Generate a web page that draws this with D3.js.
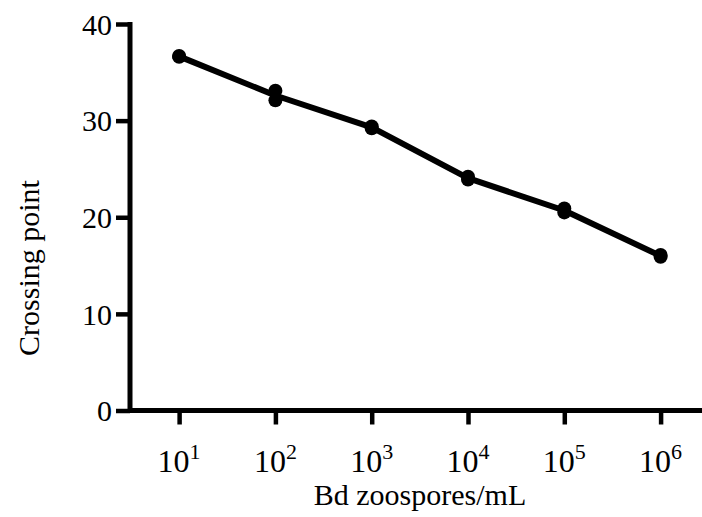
<!DOCTYPE html>
<html>
<head>
<meta charset="utf-8">
<script src="https://cdn.jsdelivr.net/npm/d3@7"></script>
<style>
  html, body { margin: 0; padding: 0; background: #fff; }
  svg { display: block; }
  text { font-family: "Liberation Serif", "Times New Roman", serif; fill: #000; }
</style>
</head>
<body>
<svg id="chart" width="702" height="517"></svg>
<script>
// Standard curve: crossing point vs. Bd zoospore concentration (two replicates)
const exponents = [1, 2, 3, 4, 5, 6];
const concentrations = exponents.map(e => Math.pow(10, e));
const replicateA = [36.7, 33.1, 29.4, 24.2, 20.9, 16.1];
const replicateB = [36.6, 32.1, 29.2, 23.9, 20.5, 15.9];
const yTicks = [0, 10, 20, 30, 40];
const xTitle = "Bd zoospores/mL";
const yTitle = "Crossing point";

const svg = d3.select("#chart");

const x = d3.scaleLog()
  .domain([Math.pow(10, 0.49), Math.pow(10, 6.43)])
  .range([130, 702]);
const y = d3.scaleLinear().domain([0, 40]).range([410.5, 24]);

// y axis
const yAxis = svg.append("g").attr("transform", `translate(${x.range()[0]},0)`)
  .call(d3.axisLeft(y).tickValues(yTicks).tickSize(14).tickSizeOuter(0).tickPadding(4));
yAxis.select(".domain").attr("stroke", "#000").attr("stroke-width", 5)
  .attr("d", `M0,${y(40) - 2}V${y(0) + 2.5}`);
yAxis.selectAll(".tick line").attr("stroke", "#000").attr("stroke-width", 4.5);
yAxis.selectAll(".tick text").attr("font-size", 30).attr("dy", "0.34em")
  .style("font-family", "Liberation Serif");

// x axis
const xAxis = svg.append("g").attr("transform", `translate(0,${y(0)})`)
  .call(d3.axisBottom(x).tickValues(concentrations).tickSize(14).tickSizeOuter(0).tickFormat(() => ""));
xAxis.select(".domain").attr("stroke", "#000").attr("stroke-width", 5)
  .attr("d", `M${x.range()[0]},0H${x.range()[1]}`);
xAxis.selectAll(".tick line").attr("stroke", "#000").attr("stroke-width", 4.5);

// tick labels as 10 with a superscript exponent
const labels = svg.append("g");
exponents.forEach((e, i) => {
  const t = labels.append("text")
    .attr("x", x(concentrations[i]))
    .attr("y", 472)
    .attr("text-anchor", "middle")
    .attr("font-size", 32);
  t.append("tspan").text("10");
  t.append("tspan").attr("font-size", 22).attr("dy", -13).text(e);
});

// series: line through replicate means, markers for each replicate
const means = replicateA.map((v, i) => (v + replicateB[i]) / 2);
const line = d3.line().x((d, i) => x(concentrations[i])).y(d => y(d));
svg.append("path").datum(means)
  .attr("fill", "none").attr("stroke", "#000").attr("stroke-width", 6)
  .attr("stroke-linejoin", "round").attr("d", line);

const pts = [];
concentrations.forEach((c, i) => {
  pts.push({ c, v: replicateA[i] });
  pts.push({ c, v: replicateB[i] });
});
svg.append("g").selectAll("circle").data(pts).join("circle")
  .attr("cx", d => x(d.c)).attr("cy", d => y(d.v)).attr("r", 7).attr("fill", "#000");

// axis titles
svg.append("text").attr("x", 420).attr("y", 505).attr("text-anchor", "middle")
  .attr("font-size", 30).text(xTitle);
svg.append("text").attr("transform", "translate(39,268) rotate(-90)")
  .attr("text-anchor", "middle").attr("font-size", 30).text(yTitle);
</script>
</body>
</html>
